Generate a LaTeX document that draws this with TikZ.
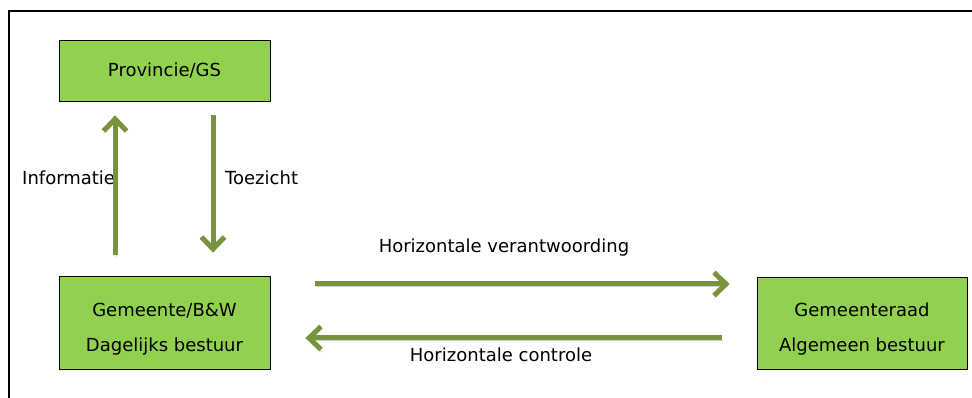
\documentclass[tikz,border=0pt]{standalone}
\usepackage{fontspec}
\setmainfont{DejaVu Sans}
\usepackage{tikz}
\usetikzlibrary{calc,shapes,positioning}
\usetikzlibrary{arrows.meta}
\tikzset{>={Straight Barb[width=23pt,length=12pt]}}
\definecolor{boxgreen}{HTML}{92D050}
\definecolor{arrowgreen}{HTML}{77933C}

\begin{document}
\begin{tikzpicture}[x=1pt,y=1pt]
          \tikzstyle{bnode} = [draw=black, fill=boxgreen, line width=0.8pt, minimum width = 211pt, align=center, font=\fontsize{18}{35}\selectfont]
          \tikzstyle{lnode} = [inner sep = 0pt, font=\fontsize{18}{22}\selectfont]
          \tikzstyle{garrow} = [->, line width=5pt, draw=arrowgreen, preaction={draw=black!18, transform canvas={shift={(1pt,-2.5pt)}}}]

          \useasboundingbox (0,0) rectangle (972,398);
          % frame
          \draw[line width=2pt] (9,0) -- (9,387) -- (972,387);

          \node[bnode, minimum height = 61pt] (ps) at (164.5, 327.5) {Provincie/GS};
          \node[bnode, minimum height = 93pt] (gb) at (164.5, 75.5) {\rule{0pt}{26pt}Gemeente/B\&W\\Dagelijks bestuur};
          \node[bnode, minimum height = 92pt, minimum width = 210pt] (ga) at (862, 74.5) {\rule{0pt}{24pt}Gemeenteraad\\Algemeen bestuur};

          \node[lnode, anchor=west] (inf) at (22, 220) {Informatie};
          \node[lnode, anchor=west] (toe) at (225, 220) {Toezicht};
          \node[lnode] (hv) at (504, 150) {Horizontale verantwoording};
          \node[lnode] (hc) at (501, 43) {Horizontale controle};

          \draw[garrow] ($(gb.north)+(-49.5,21)$) to ($(ps.south)+(-49.5,-14)$);
          \draw[garrow] ($(ps.south)+(48.5,-14)$) to ($(gb.north)+(48.5,23)$);
          \draw[garrow] ($(gb.east)+(45,38.5)$) to ($(ga.west)+(-27,39.5)$);
          \draw[garrow] ($(ga.west)+(-35,-14.5)$) to ($(gb.east)+(35,-15.5)$);
        \end{tikzpicture}
\end{document}
